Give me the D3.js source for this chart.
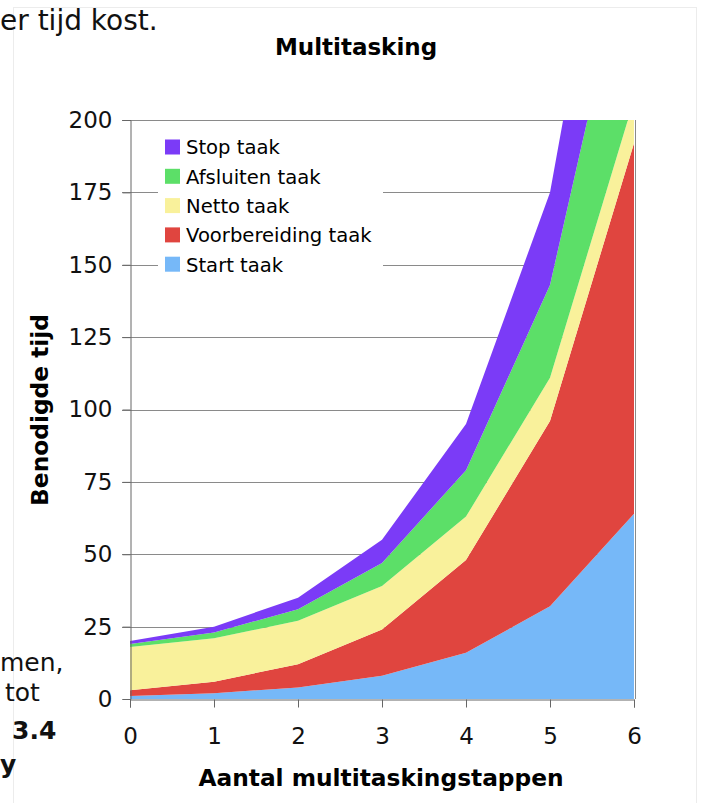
<!DOCTYPE html>
<html>
<head>
<meta charset="utf-8">
<script src="https://cdn.jsdelivr.net/npm/d3@7"></script>
<style>
html,body{margin:0;padding:0;background:#fff;overflow:hidden;}
svg{display:block;}
text{font-family:"DejaVu Sans",Verdana,sans-serif;}
</style>
</head>
<body>
<svg id="c" width="701" height="803"></svg>
<script>
// ---- data ----
const steps = [0, 1, 2, 3, 4, 5, 6];
const startTaak = [1, 2, 4, 8, 16, 32, 64];
const voorbereidingTaak = [2, 4, 8, 16, 32, 64, 128];
const nettoTaak = [15, 15, 15, 15, 15, 15, 15];
const afsluitenTaak = [1, 2, 4, 8, 16, 32, 64];
const stopTaak = [1, 2, 4, 8, 16, 32, 64];
const seriesNames = ["Start taak", "Voorbereiding taak", "Netto taak", "Afsluiten taak", "Stop taak"];
const seriesColors = ["#76b8f8", "#e0453f", "#f9f19b", "#5cdf68", "#7b3bf7"];
const yTicks = [0, 25, 50, 75, 100, 125, 150, 175, 200];
const xTicks = [0, 1, 2, 3, 4, 5, 6];

const seriesValues = [startTaak, voorbereidingTaak, nettoTaak, afsluitenTaak, stopTaak];
const table = steps.map((s, i) => {
  const row = {step: s};
  seriesNames.forEach((n, k) => row[n] = seriesValues[k][i]);
  return row;
});

const svg = d3.select("#c");
const L = 130, R = 634, T = 120, B = 699;
const x = d3.scaleLinear().domain([0, 6]).range([L, R]);
const y = d3.scaleLinear().domain([0, 200]).range([B, T]);

// surrounding page fragments
svg.append("rect").attr("x", 13.5).attr("y", 7.5).attr("width", 683).attr("height", 820)
  .attr("fill", "#fff").attr("stroke", "#ececec");
svg.append("text").attr("x", 0).attr("y", 30).attr("font-size", 28).attr("fill", "#111").text("er tijd kost.");
svg.append("text").attr("x", 0).attr("y", 671).attr("font-size", 25).attr("fill", "#111").text("men,");
svg.append("text").attr("x", 5).attr("y", 701).attr("font-size", 25).attr("fill", "#111").text("tot");
svg.append("text").attr("x", 12).attr("y", 739).attr("font-size", 25).attr("font-weight", "bold").attr("fill", "#111").text("3.4");
svg.append("text").attr("x", 0).attr("y", 773).attr("font-size", 25).attr("font-weight", "bold").attr("fill", "#111").text("y");

// title
svg.append("text").attr("x", 356).attr("y", 55).attr("text-anchor", "middle")
  .attr("font-size", 23).attr("font-weight", "bold").attr("fill", "#000").text("Multitasking");

// gridlines
svg.append("g").selectAll("line").data(yTicks.filter(d => d > 0)).join("line")
  .attr("x1", L - 8).attr("x2", R).attr("y1", d => Math.round(y(d)) + 0.5).attr("y2", d => Math.round(y(d)) + 0.5)
  .attr("stroke", "#8a8a8a").attr("stroke-width", 1);

// areas
svg.append("clipPath").attr("id", "clip").append("rect")
  .attr("x", L).attr("y", T).attr("width", R - L).attr("height", B - T);
const stack = d3.stack().keys(seriesNames)(table);
const area = d3.area().x(d => x(d.data.step)).y0(d => y(d[0])).y1(d => y(d[1]));
svg.append("g").attr("clip-path", "url(#clip)").selectAll("path").data(stack).join("path")
  .attr("d", area).attr("fill", (d, i) => seriesColors[i]);

// right border
svg.append("line").attr("x1", R + 1.5).attr("x2", R + 1.5).attr("y1", T).attr("y2", B)
  .attr("stroke", "#8a8a8a");

// y axis
const yAxis = svg.append("g").attr("transform", `translate(${L + 0.5},0)`)
  .call(d3.axisLeft(y).tickValues(yTicks).tickFormat(d3.format("d")).tickSize(8).tickPadding(10));
yAxis.select(".domain").attr("stroke", "#666");
yAxis.selectAll(".tick line").attr("stroke", "#666");
yAxis.selectAll("text").attr("font-size", 23).attr("fill", "#111").attr("font-family", "DejaVu Sans");

// x axis
const xAxis = svg.append("g").attr("transform", `translate(0,${B + 0.5})`)
  .call(d3.axisBottom(x).tickValues(xTicks).tickFormat(d3.format("d")).tickSize(8).tickPadding(20));
xAxis.select(".domain").attr("stroke", "#666");
xAxis.selectAll(".tick line").attr("stroke", "#666");
xAxis.selectAll("text").attr("font-size", 23).attr("fill", "#111").attr("font-family", "DejaVu Sans");

// axis titles
svg.append("text").attr("x", 381).attr("y", 786).attr("text-anchor", "middle")
  .attr("font-size", 23.3).attr("font-weight", "bold").attr("fill", "#000").text("Aantal multitaskingstappen");
svg.append("text").attr("transform", "translate(48,410) rotate(-90)").attr("text-anchor", "middle")
  .attr("font-size", 23.3).attr("font-weight", "bold").attr("fill", "#000").text("Benodigde tijd");

// legend
const lg = svg.append("g");
lg.append("rect").attr("x", 158).attr("y", 129).attr("width", 225).attr("height", 155).attr("fill", "#fff");
const legendOrder = seriesNames.map((n, i) => ({name: n, color: seriesColors[i]})).reverse();
const items = lg.selectAll("g.item").data(legendOrder).join("g").attr("class", "item")
  .attr("transform", (d, i) => `translate(165,${147.5 + i * 29.3})`);
items.append("rect").attr("x", 0).attr("y", -8).attr("width", 15).attr("height", 15).attr("fill", d => d.color);
items.append("text").attr("x", 21).attr("y", 0).attr("dy", "0.35em").attr("font-size", 19.6)
  .attr("fill", "#000").text(d => d.name);
</script>
</body>
</html>
